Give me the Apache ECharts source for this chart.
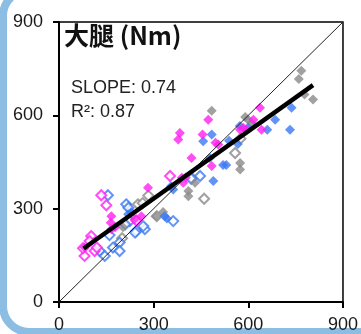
<!DOCTYPE html>
<html>
<head>
<meta charset="utf-8">
<script src="https://cdn.jsdelivr.net/npm/echarts@6/dist/echarts.min.js"></script>
<style>
  html, body { margin: 0; padding: 0; background: #fff; }
  #main { width: 361px; height: 334px; }
</style>
</head>
<body>
<div id="main"></div>
<script>
// 坐标刻度
const ticks = [0, 300, 600, 900];

// 粉色 实心 / 空心
const pinkFilled = [
  [81, 175], [166, 276], [164, 255], [240, 266], [261, 276], [282, 367], [166, 234], [178, 240],
  [383, 543], [378, 522], [455, 538], [473, 586], [505, 506], [496, 512], [420, 463], [484, 437],
  [389, 399], [394, 383], [402, 400], [574, 554], [584, 560], [595, 554], [616, 586], [637, 624], [642, 554]
];
const pinkHollow = [
  [134, 343], [150, 311], [102, 212], [97, 196], [81, 148], [113, 164], [76, 173], [120, 175],
  [352, 405], [245, 262]
];

// 蓝色 实心 / 空心
const blueFilled = [
  [219, 282], [229, 289], [335, 276], [342, 268], [355, 372], [362, 362], [484, 538], [457, 517],
  [539, 518], [478, 463], [530, 440], [520, 440], [567, 508], [489, 389], [573, 566], [599, 560],
  [737, 624], [685, 586], [732, 554], [660, 554]
];
const blueHollow = [
  [155, 343], [213, 314], [224, 260], [245, 228], [272, 234], [192, 191], [129, 164], [171, 175],
  [192, 164], [145, 148], [160, 215], [447, 405], [419, 396], [220, 303], [362, 260], [267, 244],
  [241, 223], [210, 250]
];

// 灰色 实心 / 空心
const grayFilled = [
  [768, 743], [760, 717], [778, 667], [805, 651], [484, 615], [574, 447], [574, 426], [410, 357],
  [410, 340], [431, 383], [308, 276], [330, 289], [600, 585], [590, 595], [610, 575], [203, 240]
];
const grayHollow = [
  [558, 479], [460, 332], [310, 276], [283, 342], [250, 314], [265, 318], [420, 400], [575, 525],
  [200, 205]
];

// 回归线 / 1:1 线
const fitLine = [[78, 172], [805, 697]];
const idLine = [[0, 0], [900, 900]];

const BLUE = '#3b78f2';
const PINK = '#ff1ff0';
const GRAY = '#8a8a8a';

function dots(data, color, hollow) {
  return {
    type: 'scatter',
    data: data,
    symbol: 'diamond',
    symbolSize: 10,
    itemStyle: hollow
      ? { color: '#fff', borderColor: color, borderWidth: 2 }
      : { color: color }
  };
}

function axis(pos) {
  return {
    type: 'value',
    min: ticks[0],
    max: ticks[ticks.length - 1],
    interval: 300,
    splitLine: { show: false },
    axisLine: { show: true, onZero: false, lineStyle: { color: '#000', width: 2 } },
    axisTick: { show: true, length: 6, lineStyle: { color: '#000', width: 2 } },
    axisLabel: {
      color: '#1a1a1a',
      fontSize: 18,
      fontFamily: 'Liberation Sans',
      margin: pos === 'x' ? 14 : 16
    }
  };
}

const chart = echarts.init(document.getElementById('main'), null, { renderer: 'canvas' });

chart.setOption({
  backgroundColor: '#fff',
  animation: false,
  grid: {
    left: 59, right: 18, top: 22, bottom: 31,
    show: true, borderColor: '#000', borderWidth: 1.5
  },
  xAxis: axis('x'),
  yAxis: axis('y'),
  graphic: [
    // 外框 (幻灯片的蓝色圆角边)
    {
      type: 'rect', z: -1, silent: true,
      shape: { x: 3, y: -10, width: 420, height: 342, r: 26 },
      style: { fill: null, stroke: '#8cbde3', lineWidth: 8 }
    },
    {
      type: 'text', left: 64, top: 23, z: 100,
      style: { text: '大腿 (Nm)', font: 'bold 25px "Noto Sans CJK SC"', fill: '#111' }
    },
    {
      type: 'text', left: 71, top: 79, z: 100,
      style: { text: 'SLOPE: 0.74', font: '18px "Liberation Sans"', fill: '#222' }
    },
    {
      type: 'text', left: 71, top: 103, z: 100,
      style: { text: 'R²: 0.87', font: '18px "Liberation Sans"', fill: '#222' }
    }
  ],
  series: [
    dots(grayHollow, GRAY, true),
    dots(blueHollow, BLUE, true),
    dots(pinkHollow, PINK, true),
    dots(grayFilled, GRAY, false),
    dots(blueFilled, BLUE, false),
    dots(pinkFilled, PINK, false),
    {
      type: 'line', data: idLine, symbol: 'none', z: 5,
      lineStyle: { color: '#222', width: 1 }
    },
    {
      type: 'line', data: fitLine, symbol: 'none', z: 6,
      lineStyle: { color: '#000', width: 4.5 }
    }
  ]
});
</script>
</body>
</html>
